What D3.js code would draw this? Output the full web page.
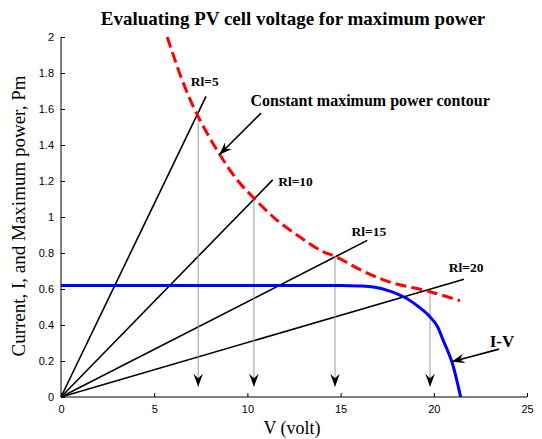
<!DOCTYPE html>
<html>
<head>
<meta charset="utf-8">
<script src="https://cdn.jsdelivr.net/npm/d3@7.9.0/dist/d3.min.js"></script>
<style>
  body { margin: 0; background: #fff; }
  svg { display: block; }
  .tick text { font-family: "Liberation Sans", Arial, sans-serif; font-size: 11px; }
</style>
</head>
<body>
<svg id="chart" width="542" height="439"></svg>
<script>
// --- data ---
// I-V curve (blue)
const ivV = [0, 5, 10, 15, 16, 16.75, 17.6, 18.55, 19.2, 19.8, 20.2, 20.5, 21.05, 21.44];
const ivI = [0.62, 0.62, 0.62, 0.62, 0.617, 0.611, 0.59, 0.547, 0.5, 0.445, 0.39, 0.316, 0.168, 0];

// constant maximum power contour (red dashed)
const pmV = [5.7, 6.5, 7.3, 8.5, 9.5, 10.4, 11.5, 12.8, 14, 14.75, 16, 17.6, 19.8, 21.4];
const pmI = [2.0, 1.76, 1.57, 1.35, 1.2, 1.1, 0.99, 0.89, 0.81, 0.78, 0.71, 0.64, 0.585, 0.535];

// load lines from origin
const rlNames = ['Rl=5', 'Rl=10', 'Rl=15', 'Rl=20'];
const rlEndV = [7.78, 11.36, 16.43, 21.62];
const rlEndI = [1.67, 1.206, 0.87, 0.654];
const rlLabelV = [6.96, 11.65, 15.59, 20.8];
const rlLabelI = [1.729, 1.175, 0.897, 0.694];

// max power points, dropped to the V axis
const mpV = [7.36, 10.35, 14.7, 19.8];
const mpI = [1.557, 1.095, 0.783, 0.589];
const mpTipI = 0.057;

const xTicks = [0, 5, 10, 15, 20, 25];
const yTicks = [0, 0.2, 0.4, 0.6, 0.8, 1, 1.2, 1.4, 1.6, 1.8, 2];

const svg = d3.select('#chart');
const x = d3.scaleLinear().domain([0, 25]).range([61, 527]);
const y = d3.scaleLinear().domain([0, 2]).range([397, 37]);

const serif = '"Liberation Serif", "Times New Roman", serif';

// arrowhead marker
const defs = svg.append('defs');
defs.append('marker')
  .attr('id', 'head')
  .attr('viewBox', '-13 -5 14 10')
  .attr('markerUnits', 'userSpaceOnUse')
  .attr('markerWidth', 14).attr('markerHeight', 10)
  .attr('refX', 0).attr('refY', 0)
  .attr('orient', 'auto')
  .append('path')
  .attr('d', 'M0,0 L-13,-4.8 L-8.5,0 L-13,4.8 Z')
  .attr('fill', '#000');

// axes
const xAxis = svg.append('g')
  .attr('transform', `translate(0,${y(0)})`)
  .call(d3.axisBottom(x).tickValues(xTicks).tickSize(-4).tickPadding(8).tickFormat(d3.format('d')));
xAxis.select('.domain').attr('stroke', '#808080').attr('stroke-width', 2)
  .attr('d', `M${x(0)},0H${x(25)}`);
xAxis.selectAll('.tick line').attr('stroke', '#000');
xAxis.selectAll('.tick text').attr('fill', '#000');

const yAxis = svg.append('g')
  .attr('transform', `translate(${x(0)},0)`)
  .call(d3.axisLeft(y).tickValues(yTicks).tickSize(-4).tickPadding(7).tickFormat(d => d3.format('')(+d.toFixed(1))));
yAxis.select('.domain').attr('d', `M0,${y(0)}V${y(2)}`).attr('stroke', '#000');
yAxis.selectAll('.tick text').attr('fill', '#000');

// load lines
svg.append('g').selectAll('line')
  .data(rlNames)
  .join('line')
  .attr('x1', x(0)).attr('y1', y(0))
  .attr('x2', (_, i) => x(rlEndV[i]))
  .attr('y2', (_, i) => y(rlEndI[i]))
  .attr('stroke', '#000').attr('stroke-width', 1.6);

svg.append('g').selectAll('text')
  .data(rlNames)
  .join('text')
  .attr('x', (_, i) => x(rlLabelV[i]))
  .attr('y', (_, i) => y(rlLabelI[i]))
  .attr('font-family', serif).attr('font-weight', 'bold').attr('font-size', 13.5)
  .text(d => d);

// vertical drop arrows
svg.append('g').selectAll('line')
  .data(mpV)
  .join('line')
  .attr('x1', d => x(d)).attr('x2', d => x(d))
  .attr('y1', (_, i) => y(mpI[i]))
  .attr('y2', y(mpTipI))
  .attr('stroke', '#999').attr('stroke-width', 1)
  .attr('marker-end', 'url(#head)');

// I-V curve
const ivLine = d3.line().x(d => x(d[0])).y(d => y(d[1])).curve(d3.curveMonotoneX);
svg.append('path')
  .datum(ivV.map((v, i) => [v, ivI[i]]))
  .attr('d', ivLine)
  .attr('fill', 'none').attr('stroke', '#0000ff').attr('stroke-width', 3);

// max power contour
const pmLine = d3.line().x(d => x(d[0])).y(d => y(d[1])).curve(d3.curveCatmullRom);
svg.append('path')
  .datum(pmV.map((v, i) => [v, pmI[i]]))
  .attr('d', pmLine)
  .attr('fill', 'none').attr('stroke', '#ff0000').attr('stroke-width', 3)
  .attr('stroke-dasharray', '11,5');

// annotations
svg.append('text')
  .attr('x', x(10.17)).attr('y', y(1.618))
  .attr('font-family', serif).attr('font-weight', 'bold').attr('font-size', 16)
  .text('Constant maximum power contour');
svg.append('line')
  .attr('x1', x(10.73)).attr('y1', y(1.577))
  .attr('x2', x(8.49)).attr('y2', y(1.346))
  .attr('stroke', '#000').attr('stroke-width', 1.6)
  .attr('marker-end', 'url(#head)');

svg.append('text')
  .attr('x', x(23.0)).attr('y', y(0.279))
  .attr('font-family', serif).attr('font-weight', 'bold').attr('font-size', 17)
  .text('I-V');
svg.append('line')
  .attr('x1', x(23.5)).attr('y1', y(0.266))
  .attr('x2', x(20.96)).attr('y2', y(0.196))
  .attr('stroke', '#000').attr('stroke-width', 1.6)
  .attr('marker-end', 'url(#head)');

// titles
svg.append('text')
  .attr('x', 293).attr('y', 25)
  .attr('text-anchor', 'middle')
  .attr('font-family', serif).attr('font-weight', 'bold').attr('font-size', 19)
  .text('Evaluating PV cell voltage for maximum power');

svg.append('text')
  .attr('x', 292).attr('y', 434)
  .attr('text-anchor', 'middle')
  .attr('font-family', serif).attr('font-size', 18)
  .text('V (volt)');

svg.append('text')
  .attr('transform', `translate(25,216) rotate(-90)`)
  .attr('text-anchor', 'middle')
  .attr('font-family', serif).attr('font-size', 19)
  .text('Current, I, and Maximum power, Pm');
</script>
</body>
</html>
